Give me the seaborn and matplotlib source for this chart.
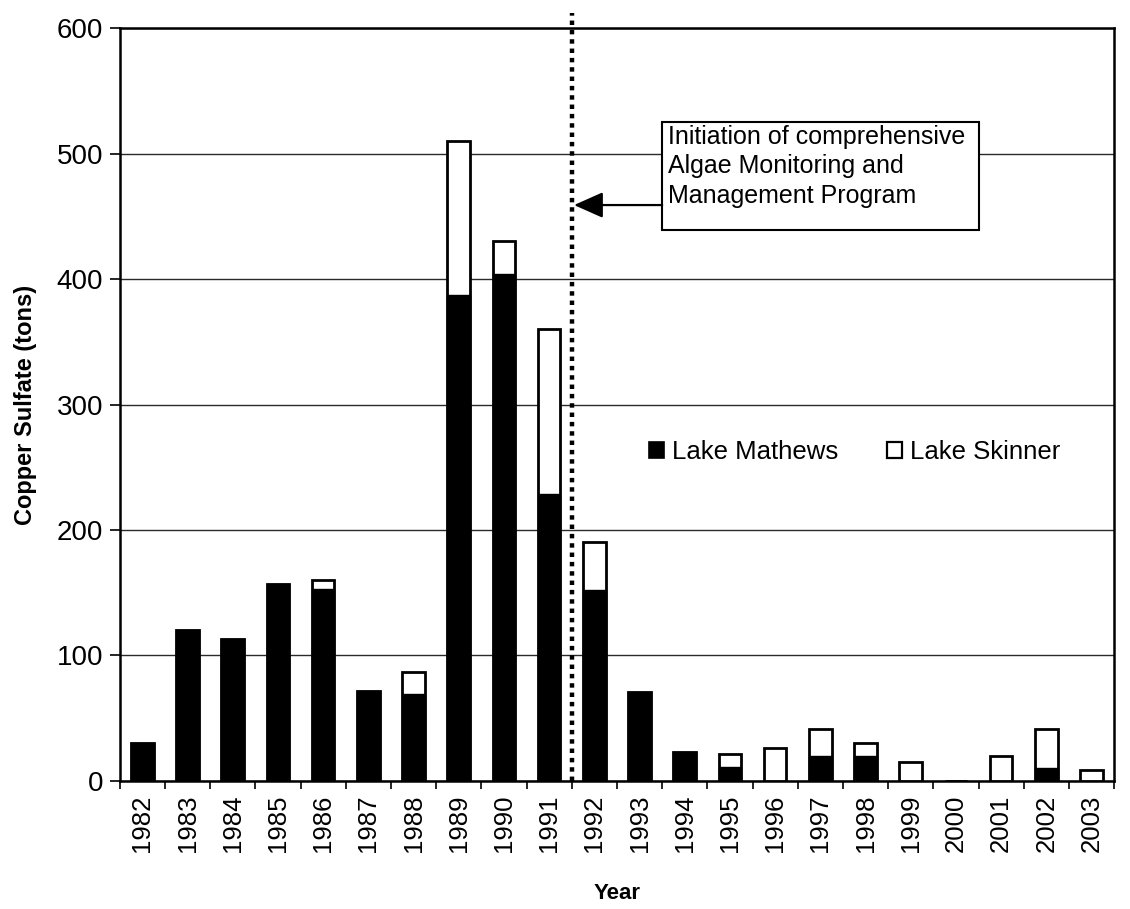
import matplotlib
matplotlib.use("Agg")
import matplotlib.pyplot as plt
from matplotlib.patches import Patch, Rectangle
import numpy as np
import pandas as pd
import seaborn as sns

# Copper sulfate applied per year (tons)
years = list(range(1982, 2004))
lake_mathews = [30, 120, 113, 157, 153, 72, 69, 387, 404, 229, 152,
                71, 23, 11, 0, 20, 20, 0, 0, 0, 10, 0]
lake_skinner = [0, 0, 0, 0, 7, 0, 18, 123, 26, 131, 38,
                0, 0, 10, 26, 21, 10, 15, 0, 20, 31, 9]
y_ticks = [0, 100, 200, 300, 400, 500, 600]
program_start_year = 1992
note_text = ("Initiation of comprehensive\n"
             "Algae Monitoring and\n"
             "Management Program")

df = pd.DataFrame({
    "Year": [str(y) for y in years],
    "Lake Mathews": lake_mathews,
    "Lake Skinner": lake_skinner,
})
df["Total"] = df["Lake Mathews"] + df["Lake Skinner"]

sns.set_style("white")
plt.rcParams["font.family"] = ["Liberation Sans", "DejaVu Sans"]
plt.rcParams.update({
    "text.color": "black",
    "axes.labelcolor": "black",
    "xtick.color": "black",
    "ytick.color": "black",
})

fig = plt.figure(figsize=(11.3, 9.09), dpi=100)
ax = fig.add_axes([0.106, 0.141, 0.880, 0.828])

# stacked bars: full height in white, Lake Mathews share in black on top
sns.barplot(data=df, x="Year", y="Total", color="white", edgecolor="black",
            linewidth=2.0, width=0.5, saturation=1, ax=ax, zorder=3)
sns.barplot(data=df, x="Year", y="Lake Mathews", color="black", edgecolor="black",
            linewidth=1.0, width=0.5, saturation=1, ax=ax, zorder=4)

ax.set_ylim(0, 600)
ax.set_xlim(-0.5, len(years) - 0.5)
ax.set_yticks(y_ticks)
ax.set_yticklabels([str(v) for v in y_ticks], fontsize=20)
ax.set_xticks(range(len(years)))
ax.set_xticklabels([str(y) for y in years], rotation=90, fontsize=18.5)

# horizontal gridlines
ax.yaxis.grid(True, color="#2a2a2a", linewidth=1.0, zorder=0)
ax.xaxis.grid(False)
ax.set_axisbelow(True)

for s in ax.spines.values():
    s.set_color("black")
    s.set_linewidth(1.8)
    s.set_visible(True)

# tick marks: y at values, x between categories
ax.tick_params(axis="y", which="major", direction="out", length=7, width=1.2,
               color="black", left=True, pad=5)
ax.tick_params(axis="x", which="major", length=0, pad=10)
ax.set_xticks(np.arange(-0.5, len(years) - 0.5 + 1e-9, 1.0), minor=True)
ax.tick_params(axis="x", which="minor", direction="out", length=6, width=1.2,
               color="black", bottom=True)

ax.set_ylabel("Copper Sulfate (tons)", fontsize=17, fontweight="bold", labelpad=14)
ax.set_xlabel("Year", fontsize=16, fontweight="bold", labelpad=22)

# program start marker between 1991 and 1992
x_start = years.index(program_start_year) - 0.5
ax.plot([x_start, x_start], [0, 612], color="black", linewidth=3.2,
        linestyle=(0, (1, 1.1)), clip_on=False, zorder=5)

# annotation box with arrow pointing to the marker
box_x0, box_x1 = 11.5, 18.5
box_y0, box_y1 = 439, 525
ax.add_patch(Rectangle((box_x0, box_y0), box_x1 - box_x0, box_y1 - box_y0,
                       facecolor="white", edgecolor="black", linewidth=1.5, zorder=6))
ax.text(box_x0 + 0.12, box_y1 - 2, note_text, fontsize=18, va="top", ha="left",
        linespacing=1.3, zorder=7)
ax.annotate("", xy=(x_start + 0.05, 459), xytext=(box_x0, 459),
            arrowprops=dict(arrowstyle="-|>,head_length=0.9,head_width=0.4",
                            color="black", lw=1.6, mutation_scale=20,
                            shrinkA=0, shrinkB=0),
            zorder=7)

handles = [
    Patch(facecolor="black", edgecolor="black", linewidth=1.2, label="Lake Mathews"),
    Patch(facecolor="white", edgecolor="black", linewidth=1.6, label="Lake Skinner"),
]
ax.legend(handles=handles, loc="center left", bbox_to_anchor=(11.2, 262),
          bbox_transform=ax.transData, ncol=2, frameon=False, fontsize=18.5,
          handlelength=0.6, handleheight=0.6, handletextpad=0.3,
          columnspacing=1.9, borderpad=0, borderaxespad=0)

fig.savefig("out.png", dpi=100, facecolor="white")
